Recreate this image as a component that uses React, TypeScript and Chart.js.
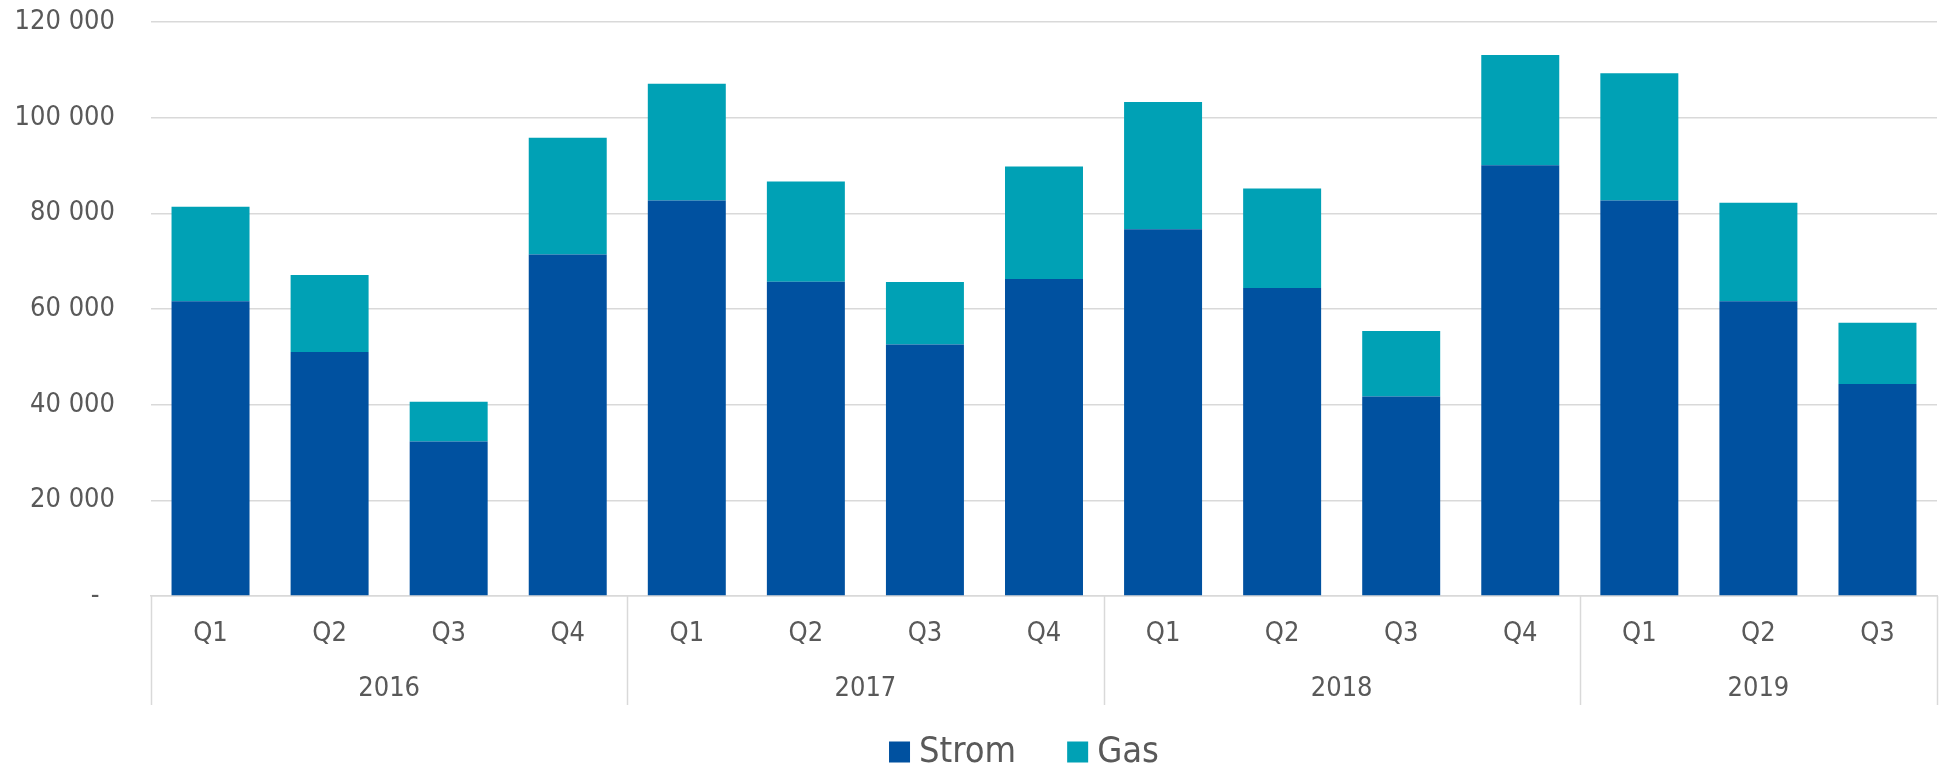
import React, { useEffect, useRef } from "react";
import { Chart, registerables } from "chart.js";

Chart.register(...registerables);

const categories = ["Q1", "Q2", "Q3", "Q4", "Q1", "Q2", "Q3", "Q4", "Q1", "Q2", "Q3", "Q4", "Q1", "Q2", "Q3"];
const years = ["2016", "2017", "2018", "2019"];
const quartersPerYear = [4, 4, 4, 3];
const stromValues = [61600, 51000, 32300, 71400, 82700, 65700, 52600, 66250, 76650, 64400, 41700, 90050, 82700, 61600, 44300];
const gasValues = [19800, 16100, 8300, 24400, 24400, 20950, 13050, 23550, 26650, 20800, 13700, 23050, 26600, 20600, 12800];
const seriesNames = ["Strom", "Gas"];
const seriesColors = ["#0051A0", "#00A1B5"];

const FONT = "'DejaVu Sans Condensed', 'Liberation Sans', sans-serif";
const TEXT = "#595959";
const GRID = "#d9d9d9";

const W = 1941;
const H = 770;

function fmt(v: number): string {
  if (v === 0) return "-  ";
  return String(v).replace(/\B(?=(\d{3})+(?!\d))/g, " ");
}

const extrasPlugin = {
  id: "extras",
  afterDraw(chart: any) {
    const ctx = chart.ctx;
    const x = chart.scales.x;
    const area = chart.chartArea;
    const n = categories.length;
    const step = (area.right - area.left) / n;
    ctx.save();
    // year separators
    ctx.strokeStyle = GRID;
    ctx.lineWidth = 1.5;
    let idx = 0;
    const bounds: number[] = [area.left];
    quartersPerYear.forEach((q) => {
      idx += q;
      bounds.push(idx >= n ? area.right : x.getPixelForValue(idx) - step / 2);
    });
    bounds.forEach((bx) => {
      ctx.beginPath();
      ctx.moveTo(Math.round(bx) + 0.5, area.bottom);
      ctx.lineTo(Math.round(bx) + 0.5, area.bottom + 109);
      ctx.stroke();
    });
    // year labels
    ctx.fillStyle = TEXT;
    ctx.font = `27px ${FONT}`;
    ctx.textAlign = "center";
    ctx.textBaseline = "middle";
    let start = 0;
    years.forEach((yr, i) => {
      const end = start + quartersPerYear[i] - 1;
      const cx = (x.getPixelForValue(start) + x.getPixelForValue(end)) / 2;
      ctx.fillText(yr, cx, area.bottom + 93);
      start = end + 1;
    });
    // legend
    ctx.font = `36px ${FONT}`;
    const box = 21;
    const gapText = 9;
    const gapItems = 51;
    const widths = seriesNames.map((s) => ctx.measureText(s).width);
    const total = widths.reduce((a, b) => a + b, 0) + seriesNames.length * (box + gapText) + gapItems * (seriesNames.length - 1);
    let lx = 1024 - total / 2;
    const ly = 752;
    ctx.textAlign = "left";
    seriesNames.forEach((s, i) => {
      ctx.fillStyle = seriesColors[i];
      ctx.fillRect(lx, ly - box / 2, box, box);
      ctx.fillStyle = TEXT;
      ctx.fillText(s, lx + box + gapText, ly + 1);
      lx += box + gapText + widths[i] + gapItems;
    });
    ctx.restore();
  },
};

export default function App() {
  const ref = useRef<HTMLCanvasElement | null>(null);
  useEffect(() => {
    if (!ref.current) return;
    const chart = new Chart(ref.current, {
      type: "bar",
      data: {
        labels: categories,
        datasets: [
          {
            label: seriesNames[0],
            data: stromValues,
            backgroundColor: seriesColors[0],
            borderWidth: 0,
          },
          {
            label: seriesNames[1],
            data: gasValues,
            backgroundColor: seriesColors[1],
            borderWidth: 0,
          },
        ],
      },
      options: {
        responsive: false,
        animation: false,
        layout: { padding: { left: 0, top: 22, right: 4, bottom: 0 } },
        plugins: {
          legend: { display: false },
          tooltip: { enabled: false },
        },
        datasets: {
          bar: { categoryPercentage: 1, barPercentage: 0.655 },
        },
        scales: {
          x: {
            stacked: true,
            grid: { display: false, drawTicks: false },
            border: { display: true, color: GRID, width: 1.5 },
            ticks: {
              color: TEXT,
              font: { family: FONT, size: 27 },
              padding: 22,
              maxRotation: 0,
              autoSkip: false,
            },
            afterFit: (s: any) => {
              s.height = H - 596;
            },
          },
          y: {
            stacked: true,
            min: 0,
            max: 120000,
            grid: { color: GRID, lineWidth: 1.5, drawTicks: true, tickLength: 36, tickColor: "rgba(0,0,0,0)" },
            border: { display: false },
            ticks: {
              stepSize: 20000,
              color: TEXT,
              font: { family: FONT, size: 27 },
              padding: 0,
              callback: (v: any) => fmt(Number(v)),
            },
            afterFit: (s: any) => {
              s.width = 151;
            },
          },
        },
      },
      plugins: [extrasPlugin],
    });
    return () => chart.destroy();
  }, []);
  return (
    <div style={{ position: "absolute", left: 0, top: 0, width: W, height: H, background: "#fff" }}>
      <canvas ref={ref} width={W} height={H} style={{ display: "block" }} />
    </div>
  );
}
